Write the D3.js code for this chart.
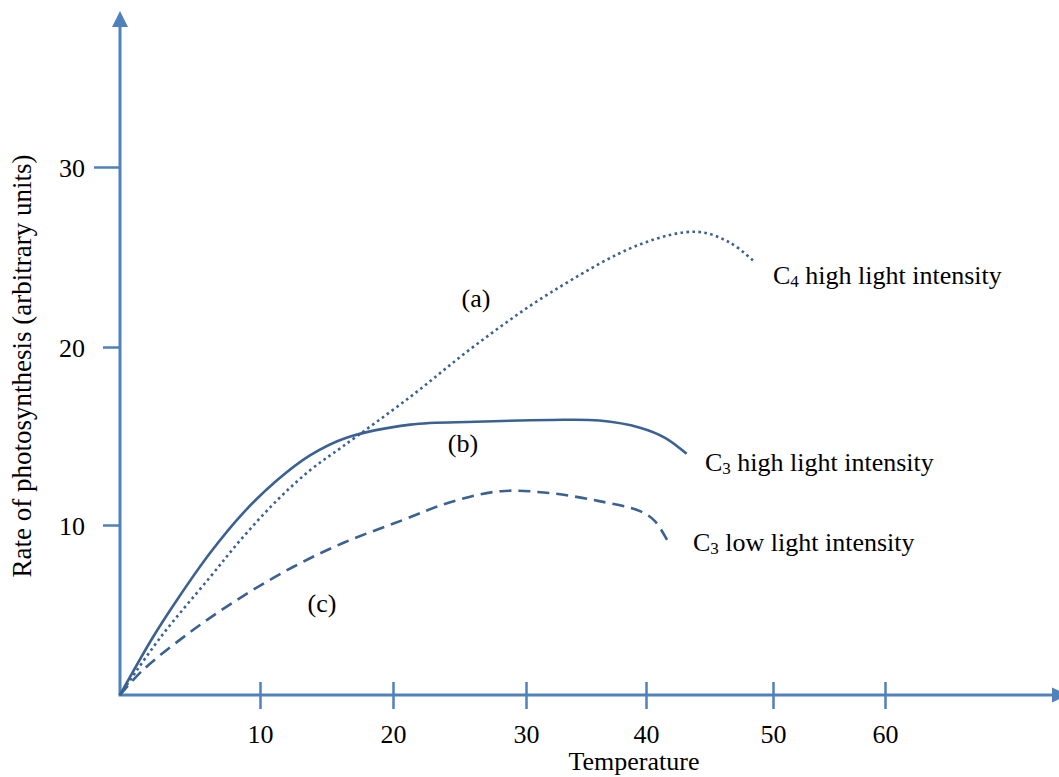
<!DOCTYPE html>
<html>
<head>
<meta charset="utf-8">
<script src="https://cdn.jsdelivr.net/npm/d3@7"></script>
<style>
  body { margin: 0; background: #fff; }
  text { font-family: "Liberation Serif", "Times New Roman", serif; fill: #000; }
</style>
</head>
<body>
<div id="chart"></div>
<script>
// values: [temperature, rate]
const c4High = [[0,0],[2.9,3.4],[6.4,6.9],[8.8,9.3],[11.3,11.4],[13.8,13.1],[16.2,14.4],[21.3,17.2],[26.2,20.1],[32,23],[39.5,25.7],[44,26.4],[46.6,25.8],[48.6,24.7]];
const c3High = [[0,0],[2.36,3.41],[4.07,5.59],[6.43,8.35],[8.79,10.67],[11.28,12.51],[13.76,13.91],[16.5,14.9],[21.3,15.64],[26.2,15.8],[32,15.9],[36.1,15.87],[39.5,15.47],[41.5,14.9],[43.2,14.0]];
const c3Low = [[0,0],[1.64,1.47],[5.21,3.82],[8.79,5.82],[12.48,7.53],[16.24,8.94],[20.75,10.28],[24.3,11.28],[28.1,11.9],[32,11.79],[36.1,11.34],[39.5,10.78],[40.7,10.22],[41.7,9.06]];

const xTicks = [10, 20, 30, 40, 50, 60];
const yTicks = [10, 20, 30];

const seriesLabels = ["C4 high light intensity", "C3 high light intensity", "C3 low light intensity"];
const curveTags = ["(a)", "(b)", "(c)"];

const W = 1059, H = 777;
const axisColor = "#4f81bd", lineColor = "#3b6192";

const svg = d3.select("#chart").append("svg")
  .attr("width", W).attr("height", H);

// the original axis is hand drawn, so the tick spacing is not even
const x = d3.scaleLinear()
  .domain([0, 10, 20, 30, 40, 50, 60])
  .range([120, 260, 393, 526, 646, 773, 885]);
const y = d3.scaleLinear()
  .domain([0, 10, 20, 30])
  .range([695, 525, 347, 167]);

const x0 = x(0), y0 = y(0);

// axis lines with arrows
svg.append("line")
  .attr("x1", x0).attr("y1", y0).attr("x2", x0).attr("y2", 26)
  .attr("stroke", axisColor).attr("stroke-width", 3);
svg.append("path")
  .attr("d", `M${x0},11 L${x0 - 8},27 L${x0 + 8},27 Z`)
  .attr("fill", axisColor);

svg.append("line")
  .attr("x1", x0 - 1.5).attr("y1", y0).attr("x2", 1054).attr("y2", y0)
  .attr("stroke", axisColor).attr("stroke-width", 3);
svg.append("path")
  .attr("d", `M1068,${y0} L1052,${y0 - 7.5} L1052,${y0 + 7.5} Z`)
  .attr("fill", axisColor);

// x axis ticks cross the line
const gx = svg.append("g")
  .attr("transform", `translate(0,${y0})`)
  .call(d3.axisBottom(x).tickValues(xTicks).tickSize(14).tickPadding(16));
gx.select(".domain").remove();
gx.selectAll(".tick line")
  .attr("y1", -13).attr("stroke", axisColor).attr("stroke-width", 2.5);
gx.selectAll(".tick text")
  .style("font-size", "26px").attr("fill", "#000");

const gy = svg.append("g")
  .attr("transform", `translate(${x0},0)`)
  .call(d3.axisLeft(y).tickValues(yTicks).tickSize(17).tickPadding(18));
gy.select(".domain").remove();
gy.selectAll(".tick line")
  .attr("stroke", axisColor).attr("stroke-width", 2.5)
  .attr("x2", d => d === 30 ? -26 : -17);
gy.selectAll(".tick text")
  .style("font-size", "26px").attr("fill", "#000").attr("dy", "0.35em");

// axis titles
svg.append("text")
  .attr("x", 634).attr("y", 770)
  .attr("text-anchor", "middle")
  .style("font-size", "26px")
  .text("Temperature");

svg.append("text")
  .attr("transform", "translate(31,366) rotate(-90)")
  .attr("text-anchor", "middle")
  .style("font-size", "27px")
  .text("Rate of photosynthesis (arbitrary units)");

// curves
const line = d3.line()
  .x(d => x(d[0]))
  .y(d => y(d[1]))
  .curve(d3.curveCatmullRom.alpha(0.5));

svg.append("path")
  .datum(c4High)
  .attr("d", line)
  .attr("fill", "none")
  .attr("stroke", lineColor)
  .attr("stroke-width", 2.6)
  .attr("stroke-dasharray", "2.6,3.4");

svg.append("path")
  .datum(c3High)
  .attr("d", line)
  .attr("fill", "none")
  .attr("stroke", lineColor)
  .attr("stroke-width", 2.6);

svg.append("path")
  .datum(c3Low)
  .attr("d", line)
  .attr("fill", "none")
  .attr("stroke", lineColor)
  .attr("stroke-width", 2.6)
  .attr("stroke-dasharray", "12,7");

// series labels with subscripts
const labelPos = [[773, 284], [705, 471], [693, 551]];
seriesLabels.forEach(function(s, i) {
  const t = svg.append("text")
    .attr("x", labelPos[i][0]).attr("y", labelPos[i][1])
    .style("font-size", "26px");
  t.append("tspan").text(s[0]);
  t.append("tspan").text(s[1]).style("font-size", "17px").attr("dy", 3);
  t.append("tspan").text(s.slice(2)).attr("dy", -3);
});

const tagPos = [[476, 298], [463, 443], [322, 603]];
curveTags.forEach(function(s, i) {
  svg.append("text")
    .attr("x", tagPos[i][0]).attr("y", tagPos[i][1])
    .attr("text-anchor", "middle").attr("dy", "0.35em")
    .style("font-size", "26px")
    .text(s);
});
</script>
</body>
</html>
